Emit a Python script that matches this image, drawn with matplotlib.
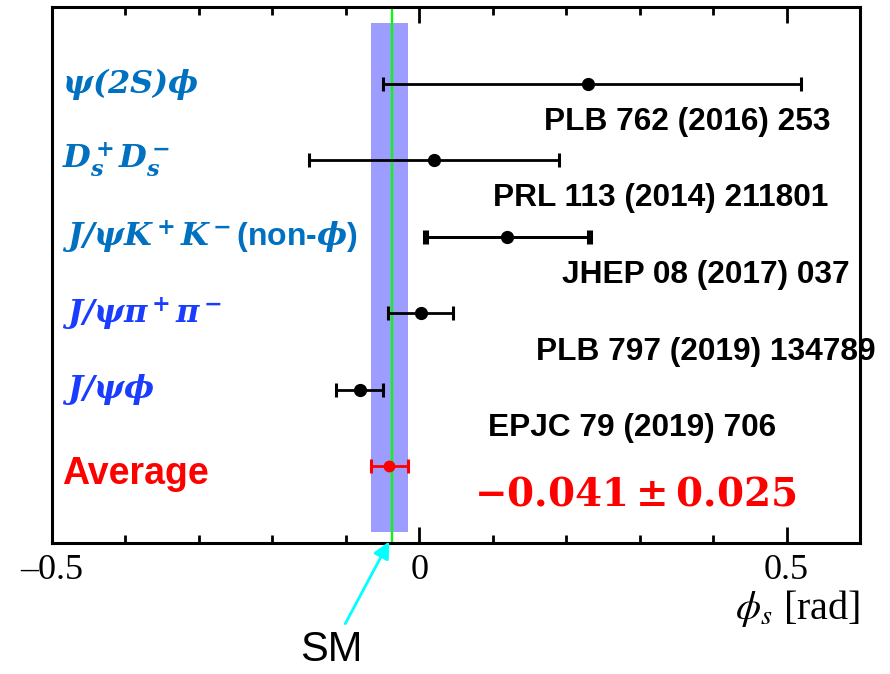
import matplotlib

matplotlib.use("Agg")
import matplotlib.pyplot as plt
from matplotlib.ticker import MultipleLocator

# phi_s measurements, top to bottom
channels = [
    r"$\mathbfit{\psi(2S)\phi}$",
    r"$\mathbfit{D_s^+D_s^-}$",
    r"$\mathbfit{J/\psi K^+K^-}$(non-$\mathbfit{\phi}$)",
    r"$\mathbfit{J/\psi\pi^+\pi^-}$",
    r"$\mathbfit{J/\psi\phi}$",
]
channel_colors = ["#0070C0", "#0070C0", "#0070C0", "#1A3CFF", "#1A3CFF"]
references = [
    "PLB 762 (2016) 253",
    "PRL 113 (2014) 211801",
    "JHEP 08 (2017) 037",
    "PLB 797 (2019) 134789",
    "EPJC 79 (2019) 706",
]
ref_x = [0.17, 0.1, 0.194, 0.159, 0.094]
phi_s = [0.23, 0.02, 0.12, 0.002, -0.081]
err_lo = [0.28, 0.17, 0.11, 0.044, 0.032]
err_hi = [0.29, 0.17, 0.11, 0.044, 0.032]
syst = [0.0, 0.0, 0.03, 0.0, 0.0]

avg_value = -0.041
avg_error = 0.025
sm_value = -0.0369

rows = list(range(len(phi_s) + 1, 1, -1))  # 6 .. 2, average on row 1

fig = plt.figure(figsize=(8.9, 6.74), dpi=100)
ax = fig.add_axes([0.0584, 0.1944, 0.9079, 0.7952])

ax.axvspan(avg_value - avg_error, avg_value + avg_error, ymin=0.02, ymax=0.97,
           color="#9D9DFF", lw=0, zorder=1)
ax.axvline(sm_value, color="#00FF00", lw=1.6, zorder=2)

for row, val, lo, hi, sy in zip(rows, phi_s, err_lo, err_hi, syst):
    ax.errorbar(val, row, xerr=[[lo], [hi]], fmt="o", color="black", ms=8.5,
                elinewidth=2.0, capsize=5, capthick=2.2, zorder=4)
    if sy > 0:
        tot_lo = (lo ** 2 + sy ** 2) ** 0.5
        tot_hi = (hi ** 2 + sy ** 2) ** 0.5
        ax.errorbar(val, row, xerr=[[tot_lo], [tot_hi]], fmt="none", ecolor="black",
                    elinewidth=2.0, capsize=5, capthick=2.2, zorder=3)

ax.errorbar(avg_value, 1, xerr=avg_error, fmt="o", color="red", ms=7.5,
            elinewidth=2.0, capsize=5, capthick=2.2, zorder=4)

for row, label, col in zip(rows, channels, channel_colors):
    ax.text(-0.486, row, label, color=col, fontsize=23, fontweight="bold",
            family="Liberation Sans", math_fontfamily="dejavuserif",
            ha="left", va="center")
ax.text(-0.486, 0.9, "Average", color="red", fontsize=27, fontweight="bold",
        family="Liberation Sans", ha="left", va="center")

for row, ref, x in zip(rows, references, ref_x):
    ax.text(x, row - 0.5, ref, fontsize=22.8, fontweight="bold",
            family="Liberation Sans", ha="left", va="center", clip_on=False)

ax.text(0.075, 0.63, rf"$\mathbf{{{avg_value:.3f} \pm {avg_error:.3f}}}$",
        color="red", fontsize=28, math_fontfamily="dejavuserif",
        ha="left", va="center")

ax.annotate("SM", xy=(sm_value - 0.004, 0.02), xytext=(-0.12, -1.4),
            fontsize=30, family="Liberation Sans", ha="center", va="center",
            annotation_clip=False,
            arrowprops=dict(arrowstyle="-|>", color="#00FFFF", lw=2,
                            mutation_scale=25, shrinkA=3, shrinkB=0))

ax.set_xlim(-0.5, 0.6)
ax.set_ylim(0, 7)
ax.xaxis.set_major_locator(MultipleLocator(0.5))
ax.xaxis.set_minor_locator(MultipleLocator(0.1))
ax.xaxis.set_major_formatter(lambda v, pos: f"{v:g}".replace("-", "\u2013"))
ax.tick_params(axis="x", which="both", direction="in", top=True, width=2,
               labelsize=26, pad=8)
ax.tick_params(axis="x", which="major", length=11.5)
ax.tick_params(axis="x", which="minor", length=5.5)
ax.tick_params(axis="y", left=False, labelleft=False)
for lbl in ax.get_xticklabels():
    lbl.set_family("Liberation Serif")
for spine in ax.spines.values():
    spine.set_linewidth(2.2)

ax.set_xlabel(r"$\phi_{s}$ [rad]", loc="right", fontsize=29,
              family="Liberation Serif", math_fontfamily="stix", labelpad=1)

fig.savefig("out.png", dpi=100)
